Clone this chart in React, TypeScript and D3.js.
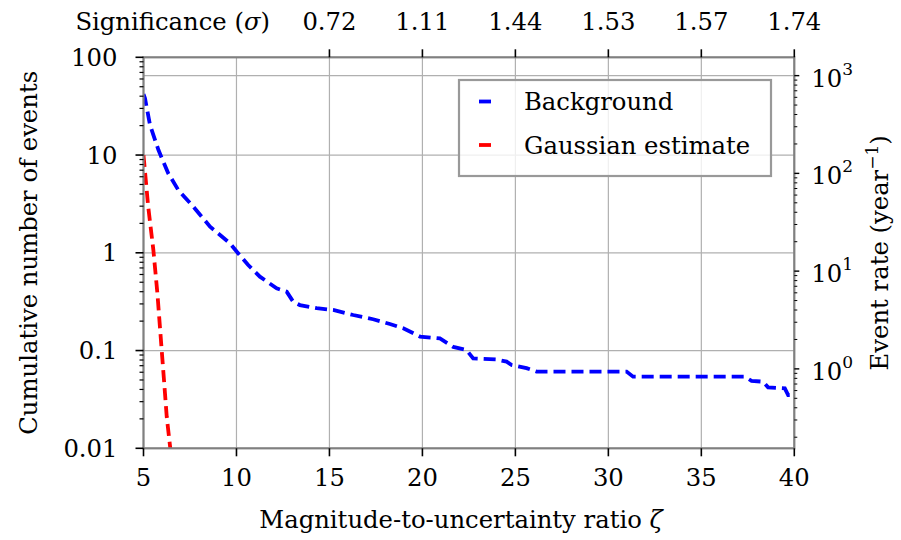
import React from "react";
import * as d3 from "d3";

const bgZeta = [5.0, 5.08, 5.35, 5.8, 6.33, 6.87, 7.68, 8.58, 9.65, 10.01, 10.63, 11.26, 12.16, 12.7, 13.05, 13.41, 14.31, 15.2, 16.28, 17.35, 18.25, 18.97, 19.87, 20.94, 21.66, 22.38, 22.73, 23.99, 24.53, 24.8, 25.6, 26.14, 30.98, 31.33, 37.34, 37.7, 38.32, 38.59, 39.49, 39.67, 40.0];
const bgCount = [42, 38.1, 20.3, 11.3, 6.51, 4.39, 2.96, 1.85, 1.25, 1.03, 0.75, 0.57, 0.433, 0.4, 0.316, 0.292, 0.271, 0.26, 0.231, 0.209, 0.187, 0.169, 0.139, 0.133, 0.109, 0.101, 0.083, 0.081, 0.077, 0.071, 0.066, 0.061, 0.061, 0.054, 0.054, 0.049, 0.048, 0.042, 0.041, 0.035, 0.035];

const gaussZeta = [5.0, 5.25, 5.53, 5.75, 5.98, 6.12, 6.25, 6.42, 6.5];
const gaussCount = [10, 3.0, 1.07, 0.38, 0.1, 0.045, 0.021, 0.0108, 0.008];

const bottomTicks = [5, 10, 15, 20, 25, 30, 35, 40];
const topTickZeta = [15, 20, 25, 30, 35, 40];
const topTickLabels = ["0.72", "1.11", "1.44", "1.53", "1.57", "1.74"];
const leftTicks = [0.01, 0.1, 1, 10, 100];
const leftTickLabels = ["0.01", "0.1", "1", "10", "100"];
const rightTicks = [1, 10, 100, 1000];
const rightTickExp = ["0", "1", "2", "3"];
const rateFactor = 15.4;

const FONT = "'DejaVu Serif', serif";
const FS = 24.3;
const SUP = 17;

export default function App() {
  const L = 143.5, R = 794.3, T = 57.3, B = 448.3;
  const x = d3.scaleLinear().domain([5, 40]).range([L, R]);
  const yL = d3.scaleLog().domain([0.01, 100]).range([B, T]);
  const yR = d3.scaleLog().domain([0.01 * rateFactor, 100 * rateFactor]).range([B, T]);

  const leftMinor: number[] = [];
  [0.01, 0.1, 1, 10].forEach((d) => { for (let k = 2; k <= 9; k++) leftMinor.push(d * k); });
  const rightMinor: number[] = [];
  [0.1, 1, 10, 100, 1000].forEach((d) => {
    for (let k = 2; k <= 9; k++) {
      const v = d * k;
      if (v >= yR.domain()[0] && v <= yR.domain()[1]) rightMinor.push(v);
    }
  });

  const bgLine = d3.line<number>().x((_, i) => x(bgZeta[i])).y((d) => yL(d));
  const gLine = d3.line<number>().x((_, i) => x(gaussZeta[i])).y((d) => yL(d));

  const grid = "#b0b0b0";
  const spine = "#808080";

  return (
    <svg width={901} height={540} style={{ display: "block", position: "absolute", left: 0, top: 0 }} fontFamily={FONT}>
      <defs>
        <clipPath id="plotclip">
          <rect x={L} y={T} width={R - L} height={B - T} />
        </clipPath>
      </defs>
      <rect x={0} y={0} width={901} height={540} fill="#fff" />
      {/* grid */}
      {bottomTicks.map((t) => (
        <line key={"gx" + t} x1={x(t)} x2={x(t)} y1={T} y2={B} stroke={grid} strokeWidth={1.2} />
      ))}
      {[0.1, 1, 10].map((t) => (
        <line key={"gy" + t} x1={L} x2={R} y1={yL(t)} y2={yL(t)} stroke={grid} strokeWidth={1.2} />
      ))}
      <line x1={L} x2={R} y1={yR(1000)} y2={yR(1000)} stroke={grid} strokeWidth={1.2} />

      {/* data */}
      <g clipPath="url(#plotclip)">
        <path d={bgLine(bgCount) || ""} fill="none" stroke="#0000ff" strokeWidth={3.8} strokeDasharray="12,6" />
        <path d={gLine(gaussCount) || ""} fill="none" stroke="#ff0000" strokeWidth={3.8} strokeDasharray="12,6" />
      </g>

      {/* spines */}
      <rect x={L} y={T} width={R - L} height={B - T} fill="none" stroke={spine} strokeWidth={2.2} />

      {/* bottom axis */}
      {bottomTicks.map((t) => (
        <g key={"bt" + t}>
          <line x1={x(t)} x2={x(t)} y1={B} y2={B + 8} stroke="#000" strokeWidth={1.6} />
          <text x={x(t)} y={B + 38} textAnchor="middle" fontSize={FS}>{t}</text>
        </g>
      ))}
      <text x={461} y={528} textAnchor="middle" fontSize={FS}>
        Magnitude-to-uncertainty ratio <tspan fontStyle="italic">ζ</tspan>
      </text>

      {/* top axis */}
      {topTickZeta.map((t, i) => (
        <g key={"tt" + t}>
          <line x1={x(t)} x2={x(t)} y1={T} y2={T - 8} stroke="#000" strokeWidth={1.6} />
          <text x={x(t)} y={30} textAnchor="middle" fontSize={FS}>{topTickLabels[i]}</text>
        </g>
      ))}
      <text x={270} y={30} textAnchor="end" fontSize={FS}>
        Significance (<tspan fontStyle="italic">σ</tspan>)
      </text>

      {/* left axis */}
      {leftTicks.map((t, i) => (
        <g key={"lt" + t}>
          <line x1={L} x2={L - 8} y1={yL(t)} y2={yL(t)} stroke="#000" strokeWidth={1.6} />
          <text x={L - 26} y={yL(t) + 8.5} textAnchor="end" fontSize={FS}>{leftTickLabels[i]}</text>
        </g>
      ))}
      {leftMinor.map((t) => (
        <line key={"lm" + t} x1={L} x2={L - 4} y1={yL(t)} y2={yL(t)} stroke="#000" strokeWidth={1.2} />
      ))}
      <text transform={`translate(37,${(T + B) / 2}) rotate(-90)`} textAnchor="middle" fontSize={FS}>
        Cumulative number of events
      </text>

      {/* right axis */}
      {rightTicks.map((t, i) => (
        <g key={"rt" + t}>
          <line x1={R} x2={R + 5} y1={yR(t)} y2={yR(t)} stroke="#000" strokeWidth={1.4} />
          <text x={R + 17} y={yR(t) + 11} fontSize={FS}>
            10<tspan fontSize={SUP} dy={-12}>{rightTickExp[i]}</tspan>
          </text>
        </g>
      ))}
      {rightMinor.map((t) => (
        <line key={"rm" + t} x1={R} x2={R + 3} y1={yR(t)} y2={yR(t)} stroke="#000" strokeWidth={1} />
      ))}
      <text transform={`translate(888,${(T + B) / 2}) rotate(-90)`} textAnchor="middle" fontSize={FS}>
        Event rate (year<tspan fontSize={SUP} dy={-10}>−1</tspan><tspan dy={10}>)</tspan>
      </text>

      {/* legend */}
      <rect x={459} y={80} width={312} height={96} fill="#fff" fillOpacity={0.8} stroke="#999" strokeWidth={2.2} />
      <line x1={479} x2={491} y1={101.5} y2={101.5} stroke="#0000ff" strokeWidth={3.8} />
      <text x={524} y={110} fontSize={FS}>Background</text>
      <line x1={479} x2={491} y1={145} y2={145} stroke="#ff0000" strokeWidth={3.8} />
      <text x={524} y={154} fontSize={FS}>Gaussian estimate</text>
    </svg>
  );
}
